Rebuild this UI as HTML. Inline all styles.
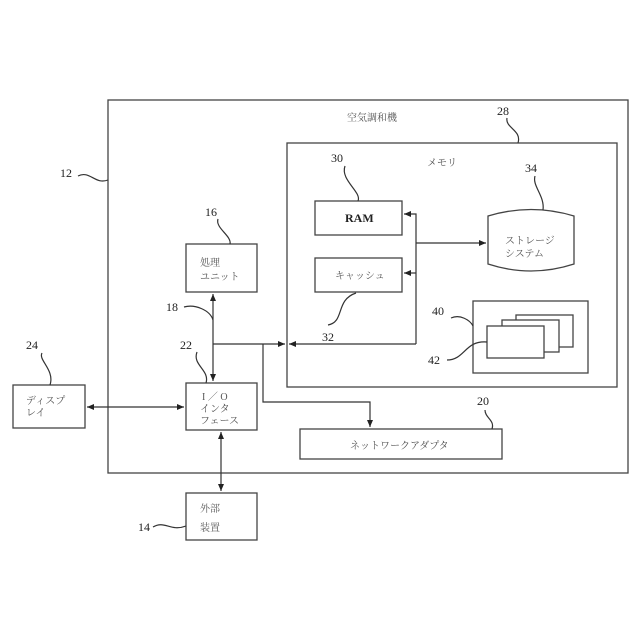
<!DOCTYPE html>
<html><head><meta charset="utf-8"><style>
html,body{margin:0;padding:0;background:#fff;}
svg{display:block;}
text{font-family:"Liberation Serif","Noto Serif CJK SC","Noto Sans CJK JP",serif;fill:#333;}
.j{font-size:10px;fill:#555;}
.n{font-size:12px;fill:#222;}
</style></head><body>
<svg width="640" height="640" viewBox="0 0 640 640" xmlns="http://www.w3.org/2000/svg">
<defs><marker id="a" markerWidth="8" markerHeight="8" refX="7" refY="4" orient="auto" markerUnits="userSpaceOnUse"><path d="M0,1 L7,4 L0,7 z" fill="#222"/></marker></defs>
<g fill="none" stroke="#444" stroke-width="1.3">
<rect x="108" y="100" width="520" height="373"/>
<rect x="287" y="143" width="330" height="244"/>
<rect x="315" y="201" width="87" height="34"/>
<rect x="315" y="258" width="87" height="34"/>
<rect x="186" y="244" width="71" height="48"/>
<rect x="186" y="383" width="71" height="47"/>
<rect x="13" y="385" width="72" height="43"/>
<rect x="186" y="493" width="71" height="47"/>
<rect x="300" y="429" width="202" height="30"/>
<rect x="473" y="301" width="115" height="72"/>
<rect x="516" y="315" width="57" height="32" fill="#fff"/>
<rect x="502" y="320" width="57" height="32" fill="#fff"/>
<rect x="487" y="326" width="57" height="32" fill="#fff"/>
<path d="M488,216 Q531,203 574,216 L574,264 Q531,278 488,264 Z"/>
</g>
<g fill="none" stroke="#333" stroke-width="1.2">
<path d="M416,344 V214 H404" marker-end="url(#a)"/>
<path d="M416,273 H404" marker-end="url(#a)"/>
<path d="M416,243 H486" marker-end="url(#a)"/>
<path d="M416,344 H289" marker-end="url(#a)"/>
<path d="M213,344 H285" marker-end="url(#a)"/>
<path d="M213,330 V294" marker-end="url(#a)"/>
<path d="M213,330 V381" marker-end="url(#a)"/>
<path d="M263,344 V402 H370 V427" marker-end="url(#a)"/>
<path d="M130,407 H87" marker-end="url(#a)"/>
<path d="M130,407 H184" marker-end="url(#a)"/>
<path d="M221,460 V432" marker-end="url(#a)"/>
<path d="M221,460 V491" marker-end="url(#a)"/>
<!-- leaders -->
<path d="M78,176 C90,170 95,185 108,180"/>
<path d="M507,118 C505,128 522,130 518,143"/>
<path d="M218,219 C215,228 232,236 230,244"/>
<path d="M345,166 C340,180 362,192 358,201"/>
<path d="M535,176 C532,186 545,196 543,210"/>
<path d="M184,307 C195,304 210,310 213,320"/>
<path d="M197,352 C192,365 210,370 206,383"/>
<path d="M328,325 C345,322 335,300 356,293"/>
<path d="M451,318 C460,314 470,320 473,326"/>
<path d="M447,360 C465,360 465,340 487,342"/>
<path d="M42,353 C38,360 55,370 50,385"/>
<path d="M485,410 C485,418 495,420 492,429"/>
<path d="M153,527 C165,520 170,532 186,526"/>
</g>
<text class="j" x="347" y="121">空気調和機</text>
<text class="n" x="497" y="115">28</text>
<text class="n" x="60" y="177">12</text>
<text class="n" x="205" y="216">16</text>
<text class="n" x="331" y="162">30</text>
<text class="j" x="427" y="166">メモリ</text>
<text class="n" x="525" y="172">34</text>
<text class="n" x="166" y="311">18</text>
<text class="n" x="180" y="349">22</text>
<text class="n" x="322" y="341">32</text>
<text class="n" x="432" y="315">40</text>
<text class="n" x="428" y="364">42</text>
<text class="n" x="26" y="349">24</text>
<text class="n" x="477" y="405">20</text>
<text class="n" x="138" y="531">14</text>
<text x="345" y="222" style="font-size:12px;font-weight:bold;fill:#222">RAM</text>
<text class="j" x="335" y="279">キャッシュ</text>
<text class="j" x="200" y="266">処理</text>
<text class="j" x="200" y="280">ユニット</text>
<text class="j" x="202" y="400">I ／ O</text>
<text class="j" x="200" y="412">インタ</text>
<text class="j" x="200" y="424">フェース</text>
<text class="j" x="26" y="404">ディスプ</text>
<text class="j" x="26" y="416">レイ</text>
<text class="j" x="200" y="512">外部</text>
<text class="j" x="200" y="531">装置</text>
<text class="j" x="350" y="449">ネットワークアダプタ</text>
<text class="j" x="505" y="244">ストレージ</text>
<text class="j" x="505" y="257">システム</text>
</svg>
</body></html>
